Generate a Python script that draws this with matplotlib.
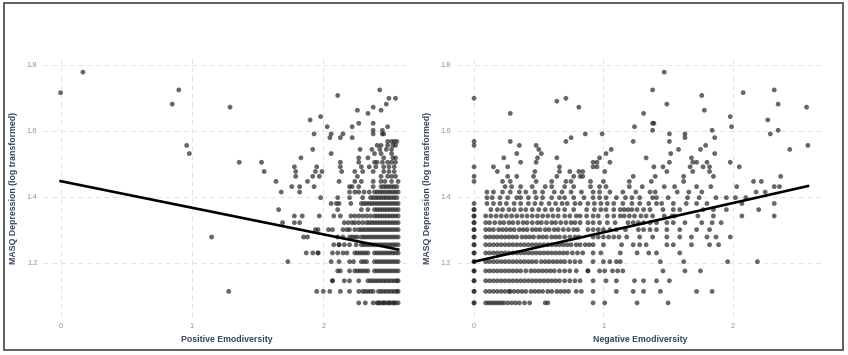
import numpy as np
import matplotlib
matplotlib.use("Agg")
import matplotlib.pyplot as plt
import matplotlib.patches as patches

plt.rcParams['font.family'] = ['Liberation Sans', 'DejaVu Sans']

# MASQ depression raw scores (plotted as log10) and emodiversity values, row by row
pos_scores = [12, 13, 14, 15, 16, 17, 18, 19, 20, 21, 22, 23, 24, 25, 26, 27, 28, 29, 30,
              31, 32, 33, 34, 35, 36, 37, 38, 39, 40, 41, 42, 43, 44, 45, 46, 47, 48, 50,
              51, 52, 53, 60]
pos_x = [
    [2.27, 2.32, 2.38, 2.41, 2.42, 2.43, 2.45, 2.46, 2.47, 2.49, 2.50, 2.51, 2.53, 2.54, 2.55, 2.57],
    [1.28, 1.95, 2.00, 2.05, 2.13, 2.20, 2.27, 2.30, 2.32, 2.34, 2.36, 2.38, 2.42, 2.44, 2.46, 2.48,
     2.50, 2.52, 2.54, 2.56, 2.57],
    [2.07, 2.07, 2.16, 2.20, 2.27, 2.34, 2.36, 2.38, 2.40, 2.42, 2.44, 2.46, 2.48, 2.50, 2.52, 2.54,
     2.56, 2.57],
    [2.11, 2.13, 2.20, 2.24, 2.26, 2.28, 2.30, 2.32, 2.34, 2.39, 2.41, 2.43, 2.45, 2.47, 2.49, 2.51,
     2.53, 2.55, 2.57],
    [1.73, 2.06, 2.12, 2.20, 2.23, 2.29, 2.31, 2.33, 2.39, 2.41, 2.43, 2.45, 2.47, 2.49, 2.51, 2.53,
     2.55, 2.57],
    [1.87, 1.92, 1.96, 1.96, 2.07, 2.11, 2.15, 2.18, 2.24, 2.26, 2.28, 2.30, 2.32, 2.34, 2.39, 2.41,
     2.43, 2.45, 2.47, 2.49, 2.51, 2.53, 2.55, 2.57],
    [2.08, 2.12, 2.12, 2.16, 2.20, 2.25, 2.29, 2.31, 2.33, 2.35, 2.37, 2.39, 2.41, 2.43, 2.45, 2.47,
     2.49, 2.51, 2.53, 2.55, 2.57],
    [1.15, 1.85, 1.88, 2.11, 2.15, 2.20, 2.22, 2.24, 2.26, 2.29, 2.31, 2.33, 2.35, 2.37, 2.39, 2.41,
     2.43, 2.45, 2.47, 2.49, 2.51, 2.53, 2.55, 2.57],
    [1.94, 1.96, 2.04, 2.07, 2.15, 2.18, 2.20, 2.24, 2.27, 2.29, 2.31, 2.33, 2.35, 2.37, 2.39, 2.41,
     2.43, 2.45, 2.47, 2.49, 2.51, 2.53, 2.55, 2.57],
    [1.69, 1.78, 1.82, 2.16, 2.19, 2.22, 2.24, 2.27, 2.30, 2.33, 2.35, 2.37, 2.39, 2.41, 2.43, 2.45,
     2.47, 2.49, 2.51, 2.53, 2.55, 2.57],
    [1.78, 1.84, 1.97, 2.08, 2.13, 2.21, 2.24, 2.27, 2.30, 2.33, 2.36, 2.39, 2.41, 2.43, 2.45, 2.47,
     2.49, 2.51, 2.53, 2.55, 2.57],
    [1.66, 2.11, 2.29, 2.34, 2.39, 2.41, 2.43, 2.45, 2.47, 2.49, 2.51, 2.53, 2.55, 2.57],
    [2.06, 2.10, 2.12, 2.21, 2.29, 2.31, 2.33, 2.35, 2.37, 2.39, 2.41, 2.43, 2.45, 2.47, 2.49, 2.51,
     2.53, 2.55, 2.57],
    [1.98, 2.11, 2.20, 2.30, 2.36, 2.38, 2.40, 2.42, 2.44, 2.46, 2.48, 2.50, 2.52, 2.54, 2.56],
    [1.68, 1.82, 2.20, 2.24, 2.27, 2.31, 2.35, 2.39, 2.41, 2.43, 2.45, 2.47, 2.49, 2.51, 2.53, 2.55,
     2.57],
    [1.76, 1.82, 1.93, 2.20, 2.22, 2.27, 2.38, 2.44, 2.46, 2.48, 2.50, 2.52, 2.54, 2.56],
    [1.64, 1.88, 2.12, 2.24, 2.29, 2.38, 2.44, 2.47, 2.52, 2.57],
    [1.79, 1.92, 1.97, 2.26, 2.44, 2.49, 2.52, 2.55],
    [1.55, 1.79, 1.94, 1.99, 2.14, 2.24, 2.30, 2.38, 2.46, 2.50, 2.54],
    [1.78, 1.95, 2.13, 2.29, 2.35, 2.40, 2.46, 2.50, 2.54],
    [1.36, 1.53, 2.13, 2.27, 2.39, 2.41, 2.45, 2.49, 2.52, 2.55],
    [1.83, 2.27, 2.34, 2.46, 2.53, 2.55],
    [0.98, 2.06, 2.39, 2.44, 2.52],
    [1.92, 2.28, 2.37, 2.43, 2.48, 2.52],
    [0.96, 2.41, 2.44, 2.49, 2.53, 2.55],
    [2.49, 2.52, 2.54, 2.56],
    [2.05, 2.13, 2.22],
    [1.93, 2.06, 2.15, 2.38, 2.45, 2.46],
    [2.38, 2.45],
    [2.03, 2.22, 2.49],
    [2.27, 2.38],
    [1.90],
    [1.98],
    [2.34],
    [2.26, 2.44],
    [1.29, 2.38],
    [0.85, 2.48],
    [2.50, 2.55],
    [2.11],
    [0.0],
    [0.90, 2.43],
    [0.17],
]

neg_scores = [12, 13, 14, 15, 16, 17, 18, 19, 20, 21, 22, 23, 24, 25, 26, 27, 28, 29, 30,
              31, 32, 33, 34, 35, 36, 37, 38, 39, 40, 41, 42, 43, 44, 45, 46, 47, 48, 49,
              50, 51, 52, 53, 60]
neg_x = [
    [0, 0, 0.09, 0.11, 0.13, 0.15, 0.17, 0.19, 0.21, 0.23, 0.26, 0.29, 0.32, 0.35, 0.39, 0.43,
     0.55, 0.57, 0.92, 1.01, 1.26, 1.50],
    [0, 0, 0.09, 0.12, 0.15, 0.18, 0.21, 0.24, 0.27, 0.28, 0.31, 0.34, 0.37, 0.40, 0.44, 0.47,
     0.50, 0.53, 0.57, 0.60, 0.64, 0.67, 0.70, 0.73, 0.79, 0.83, 0.92, 1.10, 1.23, 1.31, 1.44,
     1.72, 1.84],
    [0, 0, 0.09, 0.12, 0.15, 0.18, 0.21, 0.24, 0.27, 0.30, 0.33, 0.36, 0.39, 0.42, 0.45, 0.48,
     0.51, 0.54, 0.57, 0.60, 0.63, 0.66, 0.70, 0.74, 0.78, 0.82, 0.92, 1.02, 1.10, 1.24, 1.31,
     1.41, 1.51],
    [0, 0, 0.09, 0.12, 0.15, 0.18, 0.21, 0.24, 0.27, 0.30, 0.33, 0.36, 0.40, 0.44, 0.47, 0.50,
     0.53, 0.56, 0.59, 0.62, 0.66, 0.70, 0.74, 0.79, 0.88, 0.88, 0.97, 1.01, 1.07, 1.11, 1.15,
     1.46, 1.63, 1.75],
    [0, 0, 0.09, 0.12, 0.15, 0.18, 0.21, 0.24, 0.27, 0.30, 0.33, 0.36, 0.39, 0.42, 0.45, 0.48,
     0.52, 0.55, 0.58, 0.61, 0.64, 0.67, 0.70, 0.74, 0.78, 0.82, 0.92, 1.00, 1.05, 1.10, 1.13,
     1.44, 1.62, 1.96, 2.19],
    [0, 0, 0.09, 0.12, 0.15, 0.18, 0.21, 0.24, 0.27, 0.30, 0.33, 0.36, 0.39, 0.42, 0.45, 0.48,
     0.51, 0.54, 0.57, 0.60, 0.63, 0.66, 0.69, 0.72, 0.76, 0.80, 0.84, 0.92, 0.98, 1.13, 1.26,
     1.35, 1.41, 1.59],
    [0, 0, 0.09, 0.12, 0.15, 0.18, 0.21, 0.24, 0.27, 0.30, 0.33, 0.36, 0.39, 0.42, 0.45, 0.48,
     0.51, 0.54, 0.57, 0.60, 0.63, 0.66, 0.69, 0.72, 0.75, 0.79, 0.82, 0.86, 0.89, 0.92, 1.00,
     1.14, 1.23, 1.28, 1.33, 1.49, 1.54, 1.68, 1.82, 1.89],
    [0, 0, 0.09, 0.12, 0.15, 0.18, 0.21, 0.24, 0.27, 0.30, 0.33, 0.37, 0.40, 0.43, 0.46, 0.50,
     0.53, 0.56, 0.60, 0.63, 0.66, 0.70, 0.74, 0.78, 0.81, 0.92, 0.96, 1.00, 1.04, 1.08, 1.12,
     1.18, 1.28, 1.38, 1.49, 1.59, 1.68, 1.80, 1.87, 1.98],
    [0, 0, 0.09, 0.12, 0.15, 0.19, 0.22, 0.25, 0.28, 0.31, 0.35, 0.38, 0.41, 0.45, 0.48, 0.51,
     0.55, 0.58, 0.62, 0.65, 0.69, 0.73, 0.77, 0.80, 0.88, 0.92, 0.96, 1.00, 1.05, 1.10, 1.17,
     1.27, 1.31, 1.36, 1.41, 1.49, 1.59, 1.72, 1.82],
    [0, 0, 0.09, 0.12, 0.16, 0.20, 0.23, 0.27, 0.30, 0.34, 0.38, 0.41, 0.45, 0.49, 0.52, 0.56,
     0.60, 0.63, 0.67, 0.71, 0.75, 0.78, 0.82, 0.88, 0.92, 0.97, 1.03, 1.09, 1.19, 1.23, 1.27,
     1.31, 1.36, 1.41, 1.49, 1.54, 1.63, 1.76, 1.84, 1.91],
    [0, 0, 0.09, 0.13, 0.17, 0.21, 0.25, 0.29, 0.33, 0.37, 0.41, 0.45, 0.49, 0.53, 0.57, 0.61,
     0.65, 0.70, 0.74, 0.79, 0.82, 0.87, 0.92, 0.96, 1.03, 1.08, 1.13, 1.16, 1.20, 1.24, 1.29,
     1.33, 1.38, 1.47, 1.53, 1.55, 1.73, 1.85, 2.07, 2.32],
    [0, 0, 0.13, 0.18, 0.22, 0.27, 0.31, 0.36, 0.40, 0.45, 0.50, 0.55, 0.60, 0.65, 0.70, 0.77,
     0.87, 0.93, 0.98, 1.02, 1.08, 1.13, 1.16, 1.19, 1.22, 1.26, 1.31, 1.36, 1.46, 1.54, 1.59,
     1.77, 1.85, 1.95, 2.20],
    [0, 0.10, 0.15, 0.20, 0.25, 0.31, 0.36, 0.42, 0.47, 0.52, 0.58, 0.63, 0.68, 0.72, 0.78, 0.82,
     0.88, 0.93, 0.98, 1.03, 1.08, 1.15, 1.22, 1.28, 1.35, 1.41, 1.45, 1.54, 1.64, 1.72, 1.80,
     2.07, 2.32],
    [0.10, 0.14, 0.20, 0.26, 0.33, 0.36, 0.42, 0.48, 0.53, 0.60, 0.66, 0.70, 0.77, 0.85, 0.92,
     0.97, 1.02, 1.10, 1.17, 1.22, 1.28, 1.38, 1.41, 1.50, 1.65, 1.74, 1.87, 1.95, 2.02, 2.10],
    [0.10, 0.15, 0.22, 0.28, 0.35, 0.40, 0.47, 0.53, 0.62, 0.68, 0.75, 0.83, 0.92, 0.97, 1.05,
     1.15, 1.25, 1.36, 1.40, 1.57, 1.66, 1.76, 2.18, 2.25],
    [0.24, 0.29, 0.36, 0.45, 0.55, 0.60, 0.70, 0.77, 0.90, 0.97, 1.02, 1.20, 1.30, 1.47, 1.55,
     1.72, 1.83, 2.03, 2.32, 2.36],
    [0, 0.22, 0.28, 0.48, 0.60, 0.71, 0.75, 0.90, 1.00, 1.20, 1.37, 1.62, 2.16, 2.22],
    [0, 0.26, 0.33, 0.46, 0.64, 0.77, 0.82, 0.84, 1.23, 1.40, 1.62, 1.85, 2.37],
    [0.18, 0.47, 0.66, 0.74, 0.81, 0.84, 1.01, 1.49, 1.69, 1.82],
    [0, 0.15, 0.26, 0.66, 0.92, 0.95, 1.39, 1.46, 1.67, 1.77, 1.82, 2.05],
    [0.36, 0.48, 0.92, 0.95, 1.05, 1.51, 1.69, 1.72, 1.80, 1.98],
    [0.23, 0.49, 0.64, 0.97, 1.33, 1.68],
    [0.33, 0.52, 1.02, 1.52, 1.86],
    [0.50, 1.06, 1.58, 1.75, 2.44],
    [0, 0.35, 0.48, 1.79, 2.58],
    [0, 0.28, 0.71, 1.23, 1.51],
    [0.75, 1.63, 1.86],
    [0.86, 0.99, 1.51, 1.63, 2.29],
    [1.38, 1.84, 2.35],
    [1.24, 1.99],
    [1.38, 1.39],
    [2.27],
    [1.98],
    [0.28, 1.31],
    [1.78],
    [0.81, 2.57],
    [1.49, 2.35],
    [0.64],
    [0, 0.71],
    [1.76],
    [2.08],
    [1.38, 2.32],
    [1.47],
]

# linear fit (intercept, slope) as drawn in the figure
pos_fit = (1.448, -0.0806)
neg_fit = (1.204, 0.0888)

panels = [
    (pos_scores, pos_x, pos_fit, "Positive Emodiversity", (-0.134, 2.668)),
    (neg_scores, neg_x, neg_fit, "Negative Emodiversity", (-0.134, 2.71)),
]
lefts = [43 / 848, 456.7 / 848]

fig = plt.figure(figsize=(8.48, 3.55), dpi=100)
fig.patches.append(patches.Rectangle((4 / 848, 5 / 355), 839 / 848, 347 / 355,
                                     transform=fig.transFigure, fill=False,
                                     edgecolor='#555555', linewidth=1.3))

for (scores, xrows, fit, xlabel, xlim), left in zip(panels, lefts):
    ax = fig.add_axes([left, 38 / 355, 368 / 848, 259 / 355])
    xs = np.concatenate([np.array(r, dtype=float) for r in xrows])
    ys = np.concatenate([np.full(len(r), np.log10(s)) for s, r in zip(scores, xrows)])
    ax.scatter(xs, ys, s=12, color='#262626', alpha=0.7, edgecolors='none', zorder=2)
    xx = np.array([xs.min(), xs.max()])
    ax.plot(xx, fit[0] + fit[1] * xx, color='black', linewidth=1.9, zorder=3)
    ax.set_xlim(*xlim)
    ax.set_ylim(1.0364, 1.821)
    ax.set_xticks([0, 1, 2])
    ax.set_yticks([1.2, 1.4, 1.6, 1.8])
    ax.set_yticklabels(['1.2', '1.4', '1.6', '1.8'])
    ax.grid(True, color='#e2e2e2', linestyle=(0, (5, 4)), linewidth=0.7, zorder=0)
    for sp in ax.spines.values():
        sp.set_visible(False)
    ax.tick_params(length=0, labelsize=5.4, colors='#8a93a6', pad=4)
    ax.set_xlabel(xlabel, fontsize=6.3, fontweight='bold', color='#34445f', labelpad=4)
    ax.set_ylabel("MASQ Depression (log transformed)", fontsize=6.3, fontweight='bold',
                  color='#34445f', labelpad=6)

fig.savefig("out.png", dpi=100)
